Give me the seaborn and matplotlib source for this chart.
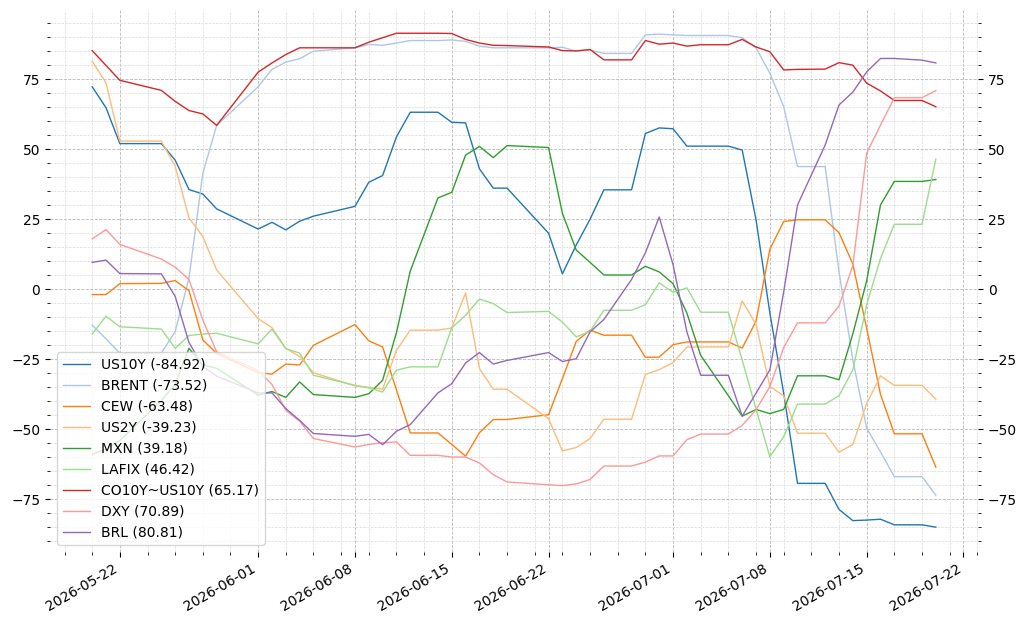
import matplotlib
matplotlib.use("Agg")
import matplotlib.pyplot as plt
import matplotlib.dates as mdates
from matplotlib.ticker import AutoMinorLocator, MultipleLocator
import pandas as pd
import seaborn as sns

dates = ["2026-05-20", "2026-05-21", "2026-05-22", "2026-05-25", "2026-05-26", "2026-05-27",
         "2026-05-28", "2026-05-29", "2026-06-01", "2026-06-02", "2026-06-03", "2026-06-04",
         "2026-06-05", "2026-06-08", "2026-06-09", "2026-06-10", "2026-06-11", "2026-06-12",
         "2026-06-14", "2026-06-15", "2026-06-16", "2026-06-17", "2026-06-18", "2026-06-19",
         "2026-06-22", "2026-06-23", "2026-06-24", "2026-06-25", "2026-06-26", "2026-06-28",
         "2026-06-29", "2026-06-30", "2026-07-01", "2026-07-02", "2026-07-03", "2026-07-05",
         "2026-07-06", "2026-07-07", "2026-07-08", "2026-07-09", "2026-07-10", "2026-07-12",
         "2026-07-13", "2026-07-14", "2026-07-15", "2026-07-16", "2026-07-17", "2026-07-19",
         "2026-07-20"]

us10y = [72.3, 64.8, 52.0, 52.0, 46.1, 35.6, 34.0, 28.7, 21.5, 23.9, 21.2, 24.3, 26.1, 29.6,
         38.2, 40.6, 54.4, 63.2, 63.2, 59.6, 59.4, 43.0, 36.1, 36.1, 20.0, 5.5, 15.8, 25.0,
         35.5, 35.5, 55.6, 57.6, 57.3, 51.1, 51.1, 51.1, 49.7, 24.8, -8.5, -37.1, -69.3,
         -69.3, -78.6, -82.6, -82.4, -82.1, -84.1, -84.1, -84.92]
brent = [-12.8, -17.7, -22.8, -22.8, -15.1, 4.0, 41.4, 58.5, 72.3, 78.5, 81.1, 82.3, 85.0,
         86.2, 87.4, 87.1, 87.9, 88.8, 88.8, 89.0, 88.5, 86.8, 86.2, 86.2, 86.2, 86.4, 85.0,
         85.4, 84.2, 84.2, 90.8, 91.1, 90.8, 90.6, 90.6, 90.6, 89.8, 86.2, 77.1, 65.2, 43.8,
         43.8, 6.3, -25.2, -49.6, -58.1, -66.9, -66.9, -73.52]
cew = [-1.9, -1.9, 2.0, 2.1, 3.1, -0.5, -18.1, -22.9, -29.8, -30.3, -26.7, -27.0, -20.0,
       -12.6, -18.4, -20.6, -35.9, -51.3, -51.3, -55.4, -59.6, -51.2, -46.5, -46.5, -44.8,
       -31.9, -18.6, -14.6, -16.4, -16.4, -24.3, -24.2, -19.8, -18.8, -18.8, -18.8, -21.0,
       -11.4, 14.3, 24.2, 24.8, 24.8, 20.2, 9.0, -14.0, -37.5, -51.6, -51.6, -63.48]
us2y = [81.4, 73.7, 52.9, 52.9, 43.9, 25.5, 18.8, 6.9, -10.5, -13.7, -21.1, -24.0, -29.8,
        -34.5, -35.0, -35.7, -21.8, -14.6, -14.6, -13.8, -1.3, -28.3, -35.7, -35.7, -46.2,
        -57.7, -56.5, -53.3, -46.4, -46.4, -30.4, -28.7, -26.2, -20.6, -20.6, -20.6, -4.2,
        -12.5, -34.7, -38.0, -51.4, -51.4, -58.2, -55.4, -40.8, -30.9, -34.3, -34.3, -39.23]
mxn = [-58.9, -57.1, -54.0, -39.8, -33.8, -21.1, -27.0, -28.2, -37.8, -36.5, -38.6, -33.1,
       -37.6, -38.6, -37.3, -32.5, -15.5, 6.5, 32.6, 34.6, 47.9, 51.0, 47.0, 51.3, 50.6,
       27.1, 14.0, 9.6, 5.1, 5.1, 8.2, 6.2, 2.0, -8.5, -23.6, -38.0, -45.3, -42.9, -44.4,
       -42.9, -30.9, -30.9, -32.3, -15.9, 3.0, 30.1, 38.5, 38.5, 39.18]
lafix = [-16.0, -9.6, -13.4, -14.2, -21.1, -16.5, -16.0, -15.7, -19.5, -14.2, -21.2, -22.8,
         -30.7, -34.3, -35.2, -36.7, -28.9, -27.7, -27.7, -13.8, -9.3, -3.5, -5.1, -8.3,
         -7.9, -11.7, -17.0, -15.0, -7.5, -7.5, -5.5, 2.3, -1.1, 0.5, -8.2, -8.2, -25.3,
         -42.7, -59.8, -52.6, -41.0, -41.0, -38.0, -28.8, -5.5, 11.0, 23.2, 23.2, 46.42]
co10y_us10y = [85.2, 79.9, 74.6, 71.0, 67.1, 63.8, 62.6, 58.5, 77.5, 80.8, 83.8, 86.2, 86.2,
               86.2, 88.2, 89.8, 91.4, 91.4, 91.4, 91.3, 89.2, 87.9, 87.1, 87.0, 86.5, 85.2,
               85.1, 85.6, 81.9, 81.9, 88.8, 87.5, 87.9, 86.8, 87.3, 87.3, 89.2, 86.5, 84.8,
               78.3, 78.5, 78.6, 80.9, 80.0, 73.6, 70.8, 67.4, 67.4, 65.17]
dxy = [18.0, 21.3, 16.0, 10.8, 7.9, 3.5, -11.0, -22.3, -29.0, -34.0, -43.2, -47.1, -53.3,
       -56.3, -55.4, -54.8, -54.5, -59.3, -59.3, -59.9, -59.9, -62.0, -66.2, -68.8, -69.8,
       -70.1, -69.5, -67.9, -63.1, -63.1, -61.7, -59.5, -59.5, -53.7, -51.7, -51.7, -48.6,
       -43.0, -34.8, -20.8, -12.0, -12.0, -6.0, 8.5, 48.6, 58.6, 68.4, 68.4, 70.89]
brl = [9.6, 10.4, 5.6, 5.5, -2.5, -19.0, -27.6, -31.0, -37.0, -37.0, -42.6, -46.8, -51.5,
       -52.5, -51.8, -55.5, -50.7, -48.3, -37.0, -33.7, -26.3, -22.6, -26.7, -25.4, -22.6,
       -25.8, -24.8, -15.2, -10.8, 3.5, 13.0, 25.8, 8.8, -15.2, -30.7, -30.7, -45.3, -37.1,
       -28.8, -1.0, 30.1, 51.5, 65.8, 70.4, 77.6, 82.4, 82.4, 81.8, 80.81]

names = ["US10Y", "BRENT", "CEW", "US2Y", "MXN", "LAFIX", "CO10Y~US10Y", "DXY", "BRL"]
series = [us10y, brent, cew, us2y, mxn, lafix, co10y_us10y, dxy, brl]

rows = []
labels = []
for name, vals in zip(names, series):
    lab = f"{name} ({vals[-1]:.2f})"
    labels.append(lab)
    for d, v in zip(dates, vals):
        rows.append({"date": pd.Timestamp(d), "value": v, "series": lab})
df = pd.DataFrame(rows)

palette = sns.color_palette("tab20", 20)[:9]

fig = plt.figure(figsize=(10.27, 6.25), dpi=100)
ax = fig.add_axes([50 / 1027, 1 - 552 / 625, (978 - 50) / 1027, (552 - 10) / 625])

sns.lineplot(data=df, x="date", y="value", hue="series", hue_order=labels,
             palette=palette, linewidth=1.0, estimator=None, sort=True, ax=ax)

ax.set_xlabel("")
ax.set_ylabel("")
ax.set_ylim(-93.8, 99.7)
ax.yaxis.set_major_locator(MultipleLocator(25))
ax.yaxis.set_minor_locator(AutoMinorLocator(5))
ax.xaxis.set_major_locator(mdates.AutoDateLocator())
ax.xaxis.set_major_formatter(mdates.DateFormatter("%Y-%m-%d"))
ax.xaxis.set_minor_locator(AutoMinorLocator(5))

ax.grid(which="major", linestyle="--", color="0.72", linewidth=0.6)
ax.grid(which="minor", linestyle="--", color="0.86", linewidth=0.5)
ax.set_axisbelow(True)
for s in ax.spines.values():
    s.set_visible(False)

for lbl in ax.get_xticklabels():
    lbl.set_rotation(30)
    lbl.set_horizontalalignment("right")

sns.move_legend(ax, "lower left", title=None, frameon=True, framealpha=0.8)

ax2 = ax.twinx()
ax2.set_ylim(ax.get_ylim())
ax2.yaxis.set_major_locator(MultipleLocator(25))
ax2.yaxis.set_minor_locator(AutoMinorLocator(5))
for s in ax2.spines.values():
    s.set_visible(False)

fig.savefig("out.png", dpi=100)
